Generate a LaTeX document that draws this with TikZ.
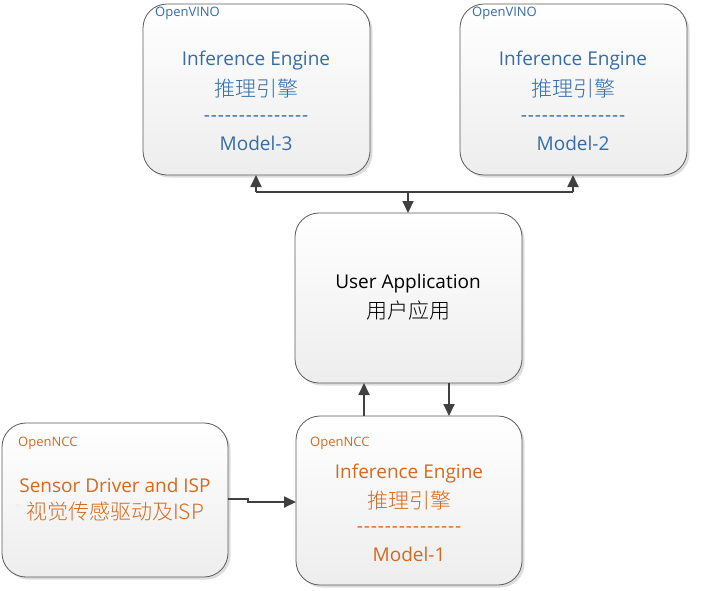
\documentclass[tikz,border=0pt]{standalone}
\usepackage{fontspec}
\setmainfont{Open Sans}
\newfontfamily\cjk{Noto Sans CJK SC}[UprightFont={* Light}]
\usetikzlibrary{shadows,arrows.meta,calc}
\definecolor{vblue}{RGB}{52,108,168}
\definecolor{norange}{RGB}{212,106,32}
\definecolor{linegray}{RGB}{64,64,64}
\definecolor{boxborder}{RGB}{90,90,90}
\newcommand\hy{-\kern0.9pt}
\newcommand\dashrow{\hy\hy\hy\hy\hy\hy\hy\hy\hy\hy\hy\hy\hy\hy-}
\tikzset{
  box/.style={draw=boxborder, line width=0.8pt, rounded corners=24pt,
    top color=white, bottom color=black!7,
    drop shadow={shadow xshift=2.5pt, shadow yshift=-2.5pt, fill=black!22, opacity=0.6}},
  tag/.style={anchor=west, font=\fontsize{13}{15}\selectfont, inner sep=0pt},
  big/.style={font=\fontsize{19}{22}\selectfont, inner sep=0pt},
  cjkt/.style={font=\cjk\fontsize{21}{24}\selectfont, inner sep=0pt},
  conn/.style={draw=linegray, line width=1.8pt, -{Triangle[length=12pt,width=11pt]}},
}
\begin{document}
\begin{tikzpicture}[x=1pt,y=-1pt]
\path[use as bounding box] (0,0) rectangle (712,590);
% boxes
\path[box] (143,4) rectangle (370,175);
\path[box] (460,4) rectangle (687,175);
\path[box] (295,213) rectangle (522,383);
\path[box] (2,423) rectangle (228,577);
\path[box] (296,416) rectangle (522,585);
\coordinate (b3) at (256,175);
\coordinate (b2) at (573,175);
\coordinate (uatop) at (408,213);
\coordinate (ual) at (364,383);
\coordinate (uar) at (449,383);
\coordinate (m1l) at (364,416);
\coordinate (m1r) at (449,416);
\coordinate (sens) at (228,499);
\coordinate (m1w) at (296,502);
\coordinate (hub) at (408,192);
% Model-3 box texts
\node[tag, text=vblue] (t3) at (155,13) {OpenVINO};
\node[big, text=vblue] (ie3) at (256,61) {Inference Engine};
\node[cjkt, text=vblue] (c3) at (256,88) {推理引擎};
\node[big, text=vblue] (d3) at (256,119) {\dashrow};
\node[big, text=vblue] (m3) at (256,143) {Model-3};
% Model-2 box texts
\node[tag, text=vblue] (t2) at (472,13) {OpenVINO};
\node[big, text=vblue] (ie2) at (573,61) {Inference Engine};
\node[cjkt, text=vblue] (c2) at (573,88) {推理引擎};
\node[big, text=vblue] (d2) at (573,119) {\dashrow};
\node[big, text=vblue] (m2) at (573,143) {Model-2};
% User application
\node[big] (ua) at (408,284) {User Application};
\node[cjkt] (uac) at (408,311) {用户应用};
% Sensor
\node[tag, text=norange] (ts) at (18,443) {OpenNCC};
\node[big, text=norange] (s1) at (115,485) {Sensor Driver and ISP};
\node[cjkt, text=norange] (s2) at (115,512) {视觉传感驱动及ISP};
% Model-1
\node[tag, text=norange] (t1) at (310,443) {OpenNCC};
\node[big, text=norange] (ie1) at (409,474) {Inference Engine};
\node[cjkt, text=norange] (c1) at (409,500) {推理引擎};
\node[big, text=norange] (d1) at (409,530) {\dashrow};
\node[big, text=norange] (m1) at (409,554) {Model-1};
% connectors
\draw[draw=linegray, line width=1.8pt] (b3 |- hub) -- (b2 |- hub);
\draw[conn] ($(b3)+(0,17)$) -- (b3);
\draw[conn] ($(b2)+(0,17)$) -- (b2);
\draw[conn] (hub) -- (uatop);
\draw[conn] (m1l) -- (ual);
\draw[conn] (uar) -- (m1r);
\draw[conn] (sens) -- ++(20,0) |- (m1w);
\end{tikzpicture}
\end{document}
